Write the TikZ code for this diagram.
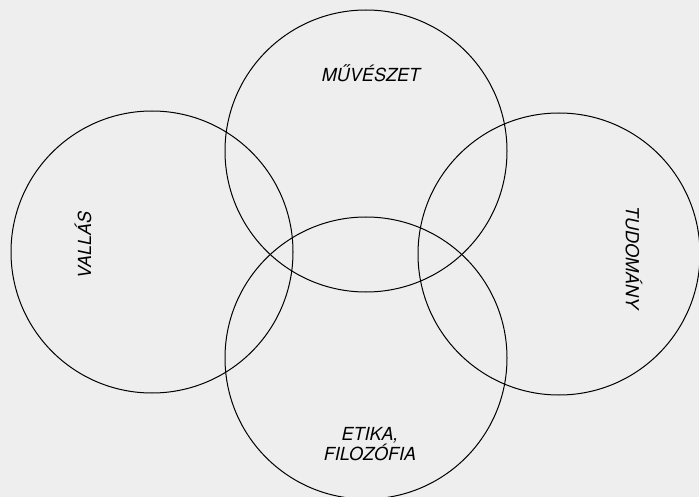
\documentclass[tikz,border=0pt]{standalone}
\usepackage{fontspec}
\setmainfont{TeX Gyre Heros}
\usepackage{tikz}
\usetikzlibrary{positioning}

\begin{document}
\begin{tikzpicture}[
    x=1pt, y=-1pt,
    ring/.style={draw, circle, minimum size=282pt, inner sep=0pt, line width=1pt},
    area/.style={font=\fontsize{18}{20}\selectfont\itshape, align=center, inner sep=0pt}
]
\fill[gray!13] (0,0) rectangle (699,497);
\useasboundingbox (0,0) rectangle (699,497);
% the four fields
\foreach \name/\cx/\cy in {art/366/151, faith/152/252, science/559/254, ethics/366/358} {
    \node[ring] (\name) at (\cx,\cy) {};
}
\node[area] (artlabel) at (371,73) {MŰVÉSZET};
\node[area, rotate=90] (faithlabel) at (83,245) {VALLÁS};
\node[area, rotate=-90] (sciencelabel) at (634,258) {TUDOMÁNY};
\node[area] (ethicslabel) at (370,444) {ETIKA,\\FILOZÓFIA};
\end{tikzpicture}
\end{document}
